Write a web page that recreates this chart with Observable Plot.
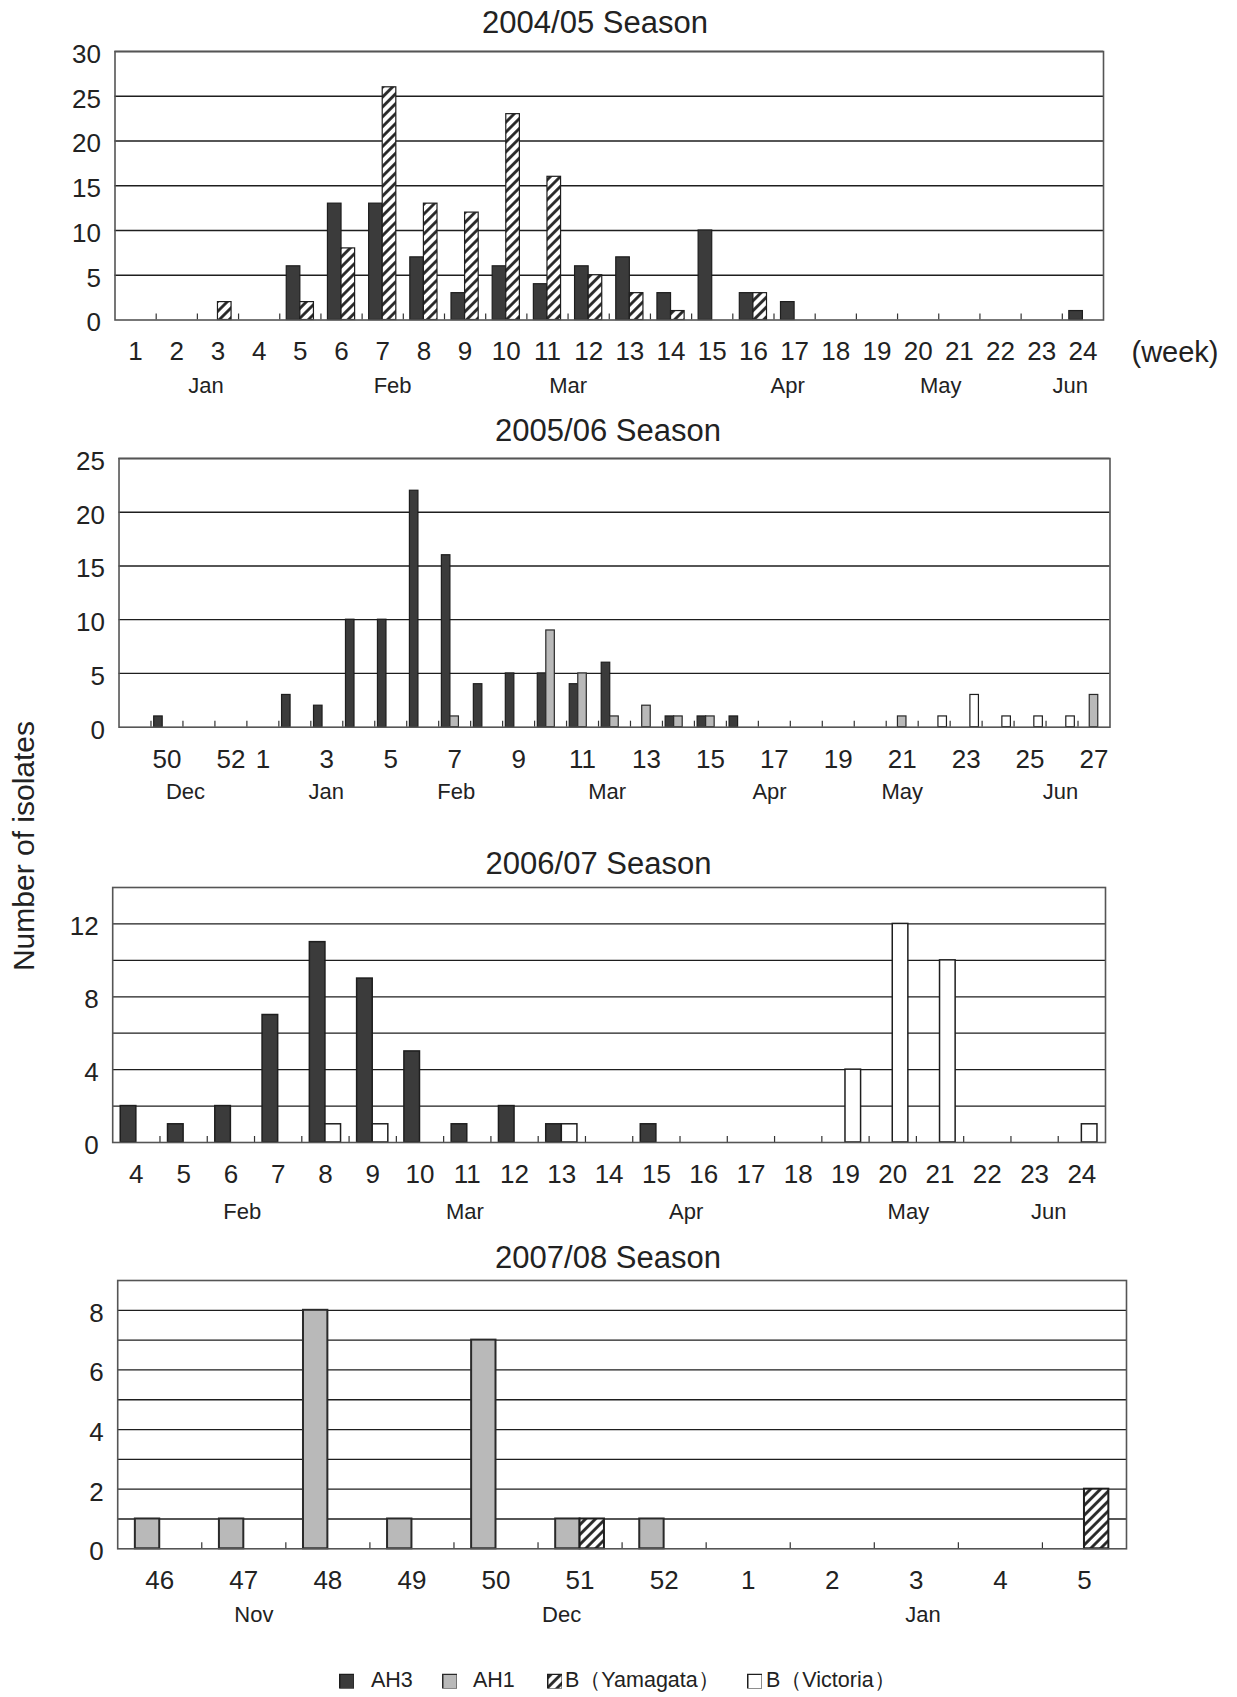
<!DOCTYPE html>
<html><head><meta charset="utf-8">
<script src="https://cdn.jsdelivr.net/npm/d3@7"></script>
<script src="https://cdn.jsdelivr.net/npm/@observablehq/plot@0.6"></script>
<style>
body{margin:0;background:#fff;}
#page{position:relative;width:1237px;height:1697px;overflow:hidden;font-family:"Liberation Sans",Arial,sans-serif;color:#222;}
.title{position:absolute;font-size:31px;transform:translate(-50%,-50%);white-space:nowrap;line-height:1;}
.panel{position:absolute;left:0;}
.panel svg{overflow:visible;}
.ylab{position:absolute;font-size:30px;white-space:nowrap;transform:translate(-50%,-50%) rotate(-90deg);line-height:1;}
.leg{position:absolute;font-size:21.5px;line-height:1;white-space:nowrap;transform:translateY(-50%);}
.sw{position:absolute;width:15px;height:15px;transform:translateY(-50%);}
</style></head><body>
<svg width="0" height="0" style="position:absolute"><defs>
<pattern id="hatch" patternUnits="userSpaceOnUse" width="7" height="7" patternTransform="rotate(45)">
<rect width="7" height="7" fill="#fff"/><line x1="3.5" y1="0" x2="3.5" y2="7" stroke="#222" stroke-width="2.8"/>
</pattern></defs></svg>
<div id="page"></div>
<script>
// ---------------- DATA ----------------
const seriesNames = ["AH3", "AH1", "B（Yamagata）", "B（Victoria）"];

// 2004/05 season
const weeks1 = [1,2,3,4,5,6,7,8,9,10,11,12,13,14,15,16,17,18,19,20,21,22,23,24];
const ah3_1  = [0,0,0,0,6,13,13,7,3,6,4,6,7,3,10,3,2,0,0,0,0,0,0,1];
const yam_1  = [0,0,2,0,2,8,26,13,12,23,16,5,3,1,0,3,0,0,0,0,0,0,0,0];
const xLabels1 = [1,2,3,4,5,6,7,8,9,10,11,12,13,14,15,16,17,18,19,20,21,22,23,24];
const yTicks1 = [0,5,10,15,20,25,30];
const months1 = ["Jan","Feb","Mar","Apr","May","Jun"];
const monthAt1 = [1.71, 6.24, 10.5, 15.83, 19.55, 22.69];

// 2005/06 season
const weeks2 = [49,50,51,52,1,2,3,4,5,6,7,8,9,10,11,12,13,14,15,16,17,18,19,20,21,22,23,24,25,26,27];
const ah3_2  = [0,1,0,0,0,3,2,10,10,22,16,4,5,5,4,6,0,1,1,1,0,0,0,0,0,0,0,0,0,0,0];
const ah1_2  = [0,0,0,0,0,0,0,0,0,0,1,0,0,9,5,1,2,1,1,0,0,0,0,0,1,0,0,0,0,0,3];
const vic_2  = [0,0,0,0,0,0,0,0,0,0,0,0,0,0,0,0,0,0,0,0,0,0,0,0,0,1,3,1,1,1,0];
const xLabels2 = [50,52,1,3,5,7,9,11,13,15,17,19,21,23,25,27];
const yTicks2 = [0,5,10,15,20,25];
const months2 = ["Dec","Jan","Feb","Mar","Apr","May","Jun"];
const monthAt2 = [1.58, 5.98, 10.05, 14.77, 19.85, 24.0, 28.95];

// 2006/07 season
const weeks3 = [4,5,6,7,8,9,10,11,12,13,14,15,16,17,18,19,20,21,22,23,24];
const ah3_3  = [2,1,2,7,11,9,5,1,2,1,0,1,0,0,0,0,0,0,0,0,0];
const vic_3  = [0,0,0,0,1,1,0,0,0,1,0,0,0,0,0,4,12,10,0,0,1];
const xLabels3 = [4,5,6,7,8,9,10,11,12,13,14,15,16,17,18,19,20,21,22,23,24];
const yTicks3 = [0,4,8,12];
const yGrid3 = [2,4,6,8,10,12];
const months3 = ["Feb","Mar","Apr","May","Jun"];
const monthAt3 = [2.24, 6.95, 11.63, 16.33, 19.3];

// 2007/08 season
const weeks4 = [46,47,48,49,50,51,52,1,2,3,4,5];
const ah1_4  = [1,1,8,1,7,1,1,0,0,0,0,0];
const yam_4  = [0,0,0,0,0,1,0,0,0,0,0,2];
const xLabels4 = [46,47,48,49,50,51,52,1,2,3,4,5];
const yTicks4 = [0,2,4,6,8];
const yGrid4 = [1,2,3,4,5,6,7,8];
const months4 = ["Nov","Dec","Jan"];
const monthAt4 = [1.12, 4.78, 9.08];

// ---------------- STYLES ----------------
const styles = {
  "AH3": {fill: "#3b3b3b", stroke: "#1e1e1e"},
  "AH1": {fill: "#b9b9b9", stroke: "#2a2a2a"},
  "B（Yamagata）": {fill: "url(#hatch)", stroke: "#1e1e1e"},
  "B（Victoria）": {fill: "#ffffff", stroke: "#1e1e1e"}
};
const FONT = "Liberation Sans, Arial, sans-serif";
const page = document.getElementById("page");

function panel(cfg) {
  const {weeks, series, yDomain, yTicks, grid, xLabels, months, monthAt, group,
         left, right, top, bottom, title, titleX, titleY, monthDy, strokeWidth, weekNote} = cfg;
  const n = weeks.length;
  const mT = 12, mB = 100;
  const h = bottom - top;
  const slot = group / series.length;
  const marks = [
    Plot.ruleY(grid, {stroke: "#1e1e1e", strokeWidth: 1.3}),
    Plot.tickX(d3.range(n - 1), {x: i => i + 0.5, insetTop: h - 6, stroke: "#333", strokeWidth: 1.2})
  ];
  series.forEach((s, j) => {
    const rows = s.values.map((v, i) => ({i, v})).filter(r => r.v > 0);
    marks.push(Plot.rectY(rows, {
      x1: r => r.i - group / 2 + j * slot,
      x2: r => r.i - group / 2 + (j + 1) * slot,
      y1: 0, y2: "v",
      fill: styles[s.name].fill, stroke: styles[s.name].stroke, strokeWidth
    }));
  });
  marks.push(
    Plot.frame({stroke: "#555", strokeWidth: 1.6}),
    Plot.axisY(yTicks, {tickSize: 0, tickPadding: 14, fontSize: 26, dy: 3, label: null}),
    Plot.axisX(xLabels.map(w => weeks.indexOf(w)), {tickSize: 0, tickPadding: 22, fontSize: 26, label: null, tickFormat: i => String(weeks[i])}),
    Plot.text(months, {x: (d, k) => monthAt[k], text: d => d, frameAnchor: "bottom", dy: monthDy, fontSize: 22, lineAnchor: "middle"})
  );
  if (weekNote) {
    marks.push(Plot.text([weekNote], {frameAnchor: "bottom-right", text: d => d, textAnchor: "start", dx: 28, dy: 33, fontSize: 29, lineAnchor: "middle"}));
  }
  const chart = Plot.plot({
    width: 1237,
    height: mT + h + mB,
    marginLeft: left, marginRight: 1237 - right, marginTop: mT, marginBottom: mB,
    style: {fontFamily: FONT, color: "#222", background: "transparent", overflow: "visible"},
    x: {type: "linear", domain: [-0.5, n - 0.5], label: null},
    y: {domain: yDomain, label: null},
    marks
  });
  const div = document.createElement("div");
  div.className = "panel";
  div.style.top = (top - mT) + "px";
  div.appendChild(chart);
  page.appendChild(div);
  const t = document.createElement("div");
  t.className = "title";
  t.style.left = titleX + "px";
  t.style.top = titleY + "px";
  t.textContent = title;
  page.appendChild(t);
}

panel({weeks: weeks1, series: [{name: "AH3", values: ah3_1}, {name: "B（Yamagata）", values: yam_1}],
  yDomain: [0, 30], yTicks: yTicks1, grid: yTicks1.slice(1), xLabels: xLabels1, months: months1, monthAt: monthAt1,
  group: 0.66, left: 114.5, right: 1103, top: 50.5, bottom: 319, title: "2004/05 Season", titleX: 595, titleY: 22,
  monthDy: 66, strokeWidth: 1.2, weekNote: "(week)"});

panel({weeks: weeks2, series: [{name: "AH3", values: ah3_2}, {name: "AH1", values: ah1_2}, {name: "B（Victoria）", values: vic_2}],
  yDomain: [0, 25], yTicks: yTicks2, grid: yTicks2.slice(1), xLabels: xLabels2, months: months2, monthAt: monthAt2,
  group: 0.8, left: 118.5, right: 1109.5, top: 458.3, bottom: 727, title: "2005/06 Season", titleX: 608, titleY: 430,
  monthDy: 65, strokeWidth: 1.2});

panel({weeks: weeks3, series: [{name: "AH3", values: ah3_3}, {name: "B（Victoria）", values: vic_3}],
  yDomain: [0, 14], yTicks: yTicks3, grid: yGrid3, xLabels: xLabels3, months: months3, monthAt: monthAt3,
  group: 0.66, left: 112.2, right: 1105, top: 886.7, bottom: 1141.7, title: "2006/07 Season", titleX: 598.5, titleY: 863,
  monthDy: 69, strokeWidth: 1.5});

panel({weeks: weeks4, series: [{name: "AH1", values: ah1_4}, {name: "B（Yamagata）", values: yam_4}],
  yDomain: [0, 9], yTicks: yTicks4, grid: yGrid4, xLabels: xLabels4, months: months4, monthAt: monthAt4,
  group: 0.58, left: 117.2, right: 1126, top: 1280, bottom: 1548.3, title: "2007/08 Season", titleX: 608, titleY: 1257,
  monthDy: 66, strokeWidth: 2});

// y axis title
const yl = document.createElement("div");
yl.className = "ylab";
yl.style.left = "24px"; yl.style.top = "846px";
yl.textContent = "Number of isolates";
page.appendChild(yl);

// legend
const legSwatchX = [339, 442, 547, 747];
const legTextX = [371, 473, 565, 766];
const legendY = 1681;
seriesNames.forEach((name, k) => {
  const sw = document.createElementNS("http://www.w3.org/2000/svg", "svg");
  sw.setAttribute("class", "sw");
  sw.setAttribute("width", "16"); sw.setAttribute("height", "16");
  sw.style.left = legSwatchX[k] + "px"; sw.style.top = legendY + "px";
  sw.innerHTML = `<rect x="0.75" y="0.75" width="14.5" height="14.5" fill="${styles[name].fill}" stroke="${styles[name].stroke}" stroke-width="1.5"/>`;
  page.appendChild(sw);
  const t = document.createElement("div");
  t.className = "leg";
  t.style.left = legTextX[k] + "px"; t.style.top = legendY + "px";
  t.textContent = name;
  page.appendChild(t);
});
</script>
</body></html>
